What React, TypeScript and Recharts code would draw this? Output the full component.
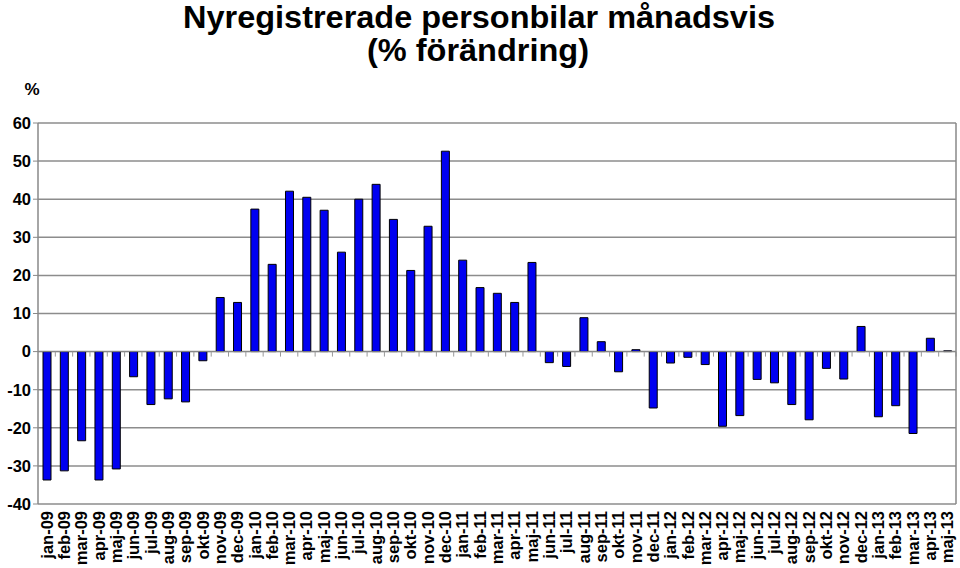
import { Bar, BarChart, CartesianGrid, ReferenceLine, XAxis, YAxis } from "recharts";

const months = [
  "jan-09", "feb-09", "mar-09", "apr-09", "maj-09", "jun-09", "jul-09", "aug-09", "sep-09", "okt-09", "nov-09", "dec-09",
  "jan-10", "feb-10", "mar-10", "apr-10", "maj-10", "jun-10", "jul-10", "aug-10", "sep-10", "okt-10", "nov-10", "dec-10",
  "jan-11", "feb-11", "mar-11", "apr-11", "maj-11", "jun-11", "jul-11", "aug-11", "sep-11", "okt-11", "nov-11", "dec-11",
  "jan-12", "feb-12", "mar-12", "apr-12", "maj-12", "jun-12", "jul-12", "aug-12", "sep-12", "okt-12", "nov-12", "dec-12",
  "jan-13", "feb-13", "mar-13", "apr-13", "maj-13",
];

const change = [
  -33.7, -31.3, -23.4, -33.7, -30.8, -6.6, -13.9, -12.4, -13.2, -2.4, 14.2, 12.9,
  37.4, 22.9, 42.1, 40.5, 37.1, 26.1, 40.0, 43.9, 34.7, 21.3, 32.9, 52.6,
  24.0, 16.8, 15.3, 12.9, 23.4, -2.9, -3.9, 8.9, 2.6, -5.3, 0.5, -14.8,
  -3.0, -1.5, -3.4, -19.6, -16.8, -7.3, -8.2, -13.9, -17.9, -4.4, -7.2, 6.6,
  -17.1, -14.2, -21.5, 3.5, 0.2,
];

const yTicks = [-40, -30, -20, -10, 0, 10, 20, 30, 40, 50, 60];

const data = months.map((m, i) => ({ month: m, value: change[i] }));

const FONT = "'Liberation Sans', Arial, sans-serif";

function MonthTick(props: any) {
  const { x, y, payload } = props;
  return (
    <text
      x={0}
      y={0}
      transform={`translate(${x + 6},${y - 1}) rotate(-90)`}
      textAnchor="end"
      fontFamily={FONT}
      fontWeight="bold"
      fontSize={16.5}
      fill="#000"
    >
      {payload.value}
    </text>
  );
}

// zero line with the small category tick marks hanging below it
function ZeroLine(props: any) {
  const { x1, x2, y1 } = props;
  const step = (x2 - x1) / months.length;
  return (
    <g>
      <line x1={x1} x2={x2} y1={y1} y2={y1} stroke="#888" strokeWidth={1} />
      {months.map((_, i) => (
        <line key={i} x1={x1 + step * (i + 1)} x2={x1 + step * (i + 1)} y1={y1} y2={y1 + 5} stroke="#999" />
      ))}
    </g>
  );
}

export default function App() {
  return (
    <div style={{ position: "absolute", left: 0, top: 0, width: 960, height: 568, background: "#fff" }}>
      <svg width={960} height={110} style={{ position: "absolute", left: 0, top: 0 }}>
        <text x={479} y={28} textAnchor="middle" fontFamily={FONT} fontWeight="bold" fontSize={32} textLength={592} lengthAdjust="spacingAndGlyphs">
          Nyregistrerade personbilar månadsvis
        </text>
        <text x={478} y={61} textAnchor="middle" fontFamily={FONT} fontWeight="bold" fontSize={32} textLength={222} lengthAdjust="spacingAndGlyphs">
          (% förändring)
        </text>
        <text x={32} y={95} textAnchor="middle" fontFamily={FONT} fontWeight="bold" fontSize={17}>
          %
        </text>
      </svg>
      <BarChart
        width={960}
        height={568}
        data={data}
        margin={{ top: 123, right: 0, bottom: 0, left: 0 }}
        barSize={8}
        style={{ position: "absolute", left: 0, top: 0 }}
      >
        <CartesianGrid vertical={false} stroke="#8c8c8c" strokeWidth={1.5} />
        <XAxis
          dataKey="month"
          interval={0}
          axisLine={false}
          tickLine={false}
          height={64}
          tick={<MonthTick />}
        />
        <YAxis
          domain={[-40, 60]}
          ticks={yTicks}
          width={38}
          axisLine={{ stroke: "#888", strokeWidth: 1.5 }}
          tickLine={{ stroke: "#888" }}
          tickSize={5}
          tick={{ fontFamily: FONT, fontWeight: "bold", fontSize: 16.5, fill: "#000" }}
          allowDataOverflow
        />
        <YAxis
          yAxisId="right"
          orientation="right"
          domain={[-40, 60]}
          width={4}
          tick={false}
          tickLine={false}
          axisLine={{ stroke: "#888", strokeWidth: 1.5 }}
        />
        <ReferenceLine y={0} shape={<ZeroLine />} />
        <Bar dataKey="value" fill="#0000f0" stroke="#000" strokeWidth={1} isAnimationActive={false} />
      </BarChart>
    </div>
  );
}
